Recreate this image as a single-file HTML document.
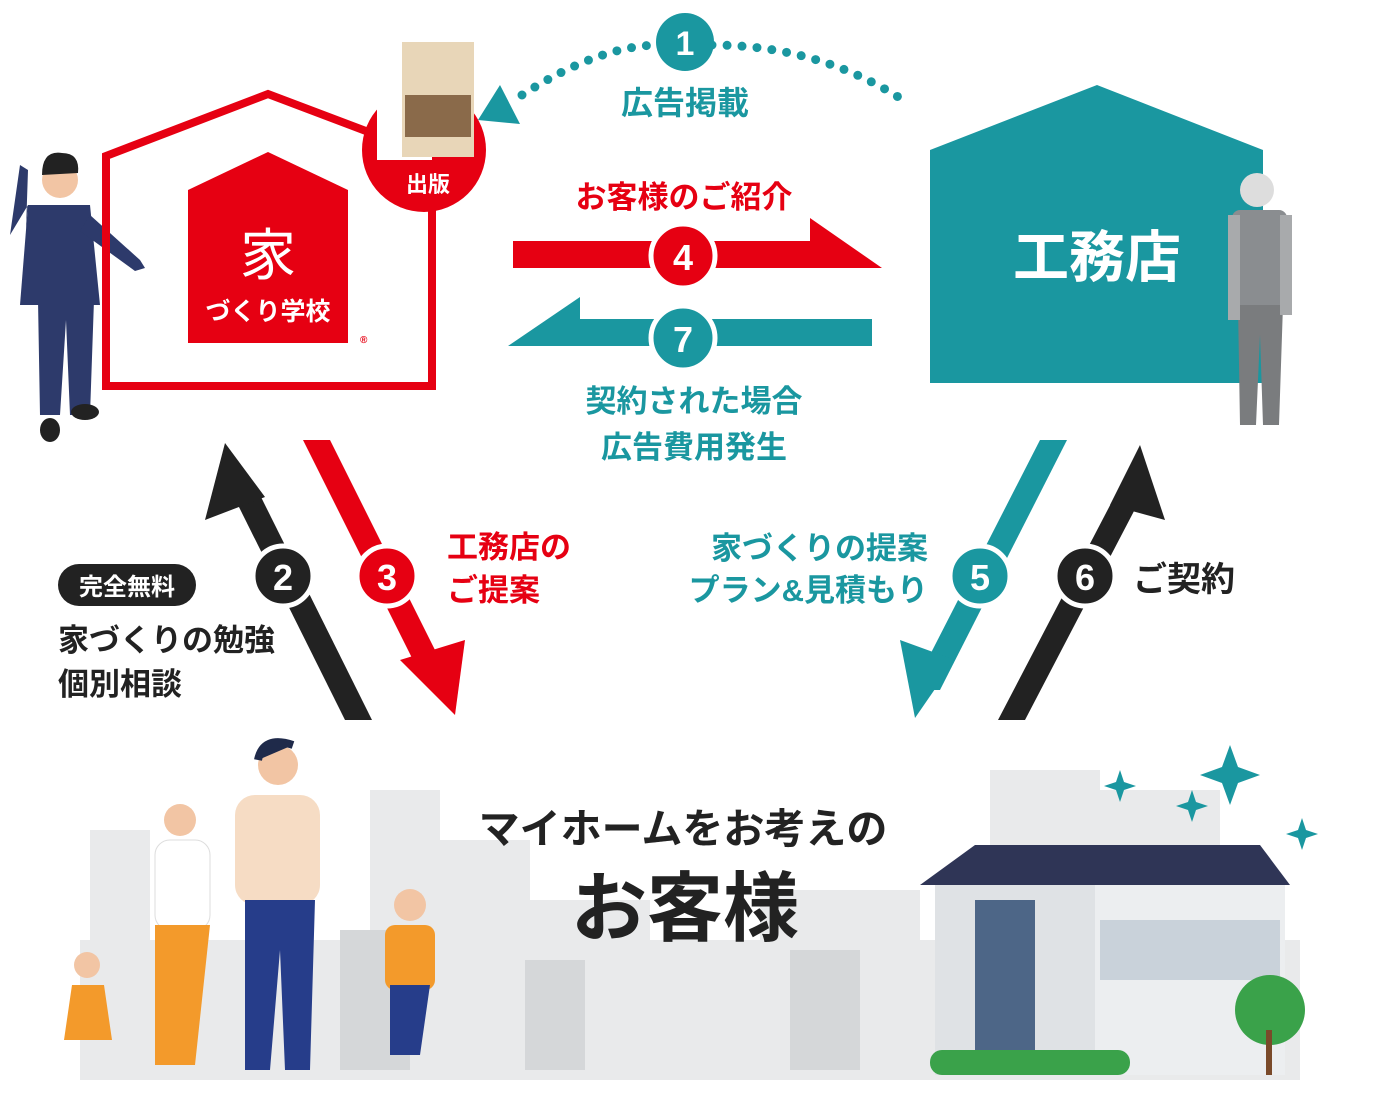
<!DOCTYPE html><html><head><meta charset="utf-8"><style>
body{margin:0;background:#fff;width:1376px;height:1088px;overflow:hidden;font-family:"Liberation Sans","Noto Sans CJK JP",sans-serif}
svg text{font-family:"Liberation Sans","Noto Sans CJK JP",sans-serif;font-weight:bold}
</style></head><body>
<svg width="1376" height="1088" viewBox="0 0 1376 1088" xmlns="http://www.w3.org/2000/svg">
<!-- bottom city -->
<g fill="#e9eaeb">
<rect x="90" y="830" width="60" height="240"/><rect x="370" y="790" width="70" height="280"/><rect x="440" y="840" width="90" height="230"/>
<rect x="520" y="900" width="130" height="170"/><rect x="760" y="890" width="160" height="180"/><rect x="990" y="770" width="110" height="100"/><rect x="1100" y="790" width="120" height="80"/>
<rect x="80" y="940" width="1220" height="140"/>
</g>
<g fill="#d5d7d9"><rect x="525" y="960" width="60" height="110"/><rect x="790" y="950" width="70" height="120"/><rect x="340" y="930" width="70" height="140"/></g>
<!-- house right -->
<polygon points="920,885 975,845 1260,845 1290,885" fill="#2f3556"/>
<rect x="935" y="885" width="160" height="190" fill="#dfe2e5"/>
<rect x="1095" y="885" width="190" height="190" fill="#eceef0"/>
<rect x="975" y="900" width="60" height="170" fill="#4d6687"/>
<rect x="1100" y="920" width="180" height="60" fill="#c9d2da"/>
<circle cx="1270" cy="1010" r="35" fill="#3aa24a"/><rect x="1266" y="1030" width="6" height="45" fill="#7a4a2a"/>
<rect x="930" y="1050" width="200" height="25" rx="12" fill="#3aa24a"/>
<g fill="#1a97a0"><path d="M1230 745l8 22 22 8-22 8-8 22-8-22-22-8 22-8z"/><path d="M1120 770l4 12 12 4-12 4-4 12-4-12-12-4 12-4z"/><path d="M1192 790l4 12 12 4-12 4-4 12-4-12-12-4 12-4z"/><path d="M1302 818l4 12 12 4-12 4-4 12-4-12-12-4 12-4z"/></g>
<!-- family -->
<g>
<circle cx="278" cy="765" r="20" fill="#f2c5a4"/><path d="M258 760q5-25 35-15" fill="#1f2a4a" stroke="#1f2a4a" stroke-width="8"/>
<rect x="235" y="795" width="85" height="110" rx="20" fill="#f6dcc4"/><path d="M245 900h70l-5 170h-25l-5-120-10 120h-25z" fill="#263d8a"/>
<circle cx="180" cy="820" r="16" fill="#f2c5a4"/><rect x="155" y="840" width="55" height="90" rx="15" fill="#fff" stroke="#ddd"/><path d="M155 925h55l-15 140h-40z" fill="#f39a2b"/>
<circle cx="410" cy="905" r="16" fill="#f2c5a4"/><rect x="385" y="925" width="50" height="65" rx="10" fill="#f39a2b"/><path d="M390 985h40l-10 70h-30z" fill="#263d8a"/>
<circle cx="87" cy="965" r="13" fill="#f2c5a4"/><path d="M72 985h32l8 55h-48z" fill="#f39a2b"/>
</g>
<!-- businessman -->
<g>
<circle cx="60" cy="180" r="18" fill="#f2c5a4"/><path d="M42 175q0-25 20-22q18 0 16 20" fill="#222"/>
<path d="M28 205h62l10 100h-80z" fill="#2d3a6b"/><path d="M38 300h56l-4 115h-20l-4-95-6 95h-20z" fill="#2d3a6b"/>
<path d="M90 215l50 45 5 8-10 3-55-40z" fill="#2d3a6b"/><path d="M28 205l-18 30 10-70 8 5-2 60z" fill="#2d3a6b"/>
<ellipse cx="50" cy="430" rx="10" ry="12" fill="#222"/><ellipse cx="85" cy="412" rx="14" ry="8" fill="#222"/>
</g>
<!-- red house -->
<polygon points="106,386 106,156 268,94 432,156 432,386" fill="none" stroke="#e60012" stroke-width="8"/>
<polygon points="188,343 188,190 268,152 348,190 348,343" fill="#e60012"/>
<text x="268" y="275" fill="#fff" font-size="56" text-anchor="middle" style="font-weight:normal">家</text>
<text x="268" y="320" fill="#fff" font-size="25" text-anchor="middle">づくり学校</text>
<text x="360" y="343" fill="#e60012" font-size="10">®</text>
<!-- publish circle -->
<circle cx="424" cy="150" r="62" fill="#e60012"/>
<rect x="377" y="60" width="55" height="100" fill="#fff"/><rect x="402" y="42" width="72" height="115" fill="#e8d6b8"/><rect x="405" y="95" width="66" height="42" fill="#8a6a4a"/>
<text x="428" y="192" fill="#fff" font-size="22" text-anchor="middle">出版</text>
<!-- teal house -->
<polygon points="930,383 930,150 1097,85 1263,150 1263,383" fill="#1a97a0"/>
<text x="1097" y="277" fill="#fff" font-size="56" text-anchor="middle">工務店</text>
<!-- worker -->
<g>
<circle cx="1257" cy="190" r="17" fill="#ddd"/><rect x="1232" y="210" width="55" height="100" rx="8" fill="#8a8d90"/><path d="M1238 305h45l-4 120h-16l-3-90-4 90h-16z" fill="#7a7c7e"/>
<rect x="1228" y="215" width="12" height="105" fill="#a8aaac"/><rect x="1280" y="215" width="12" height="100" fill="#a8aaac"/>
</g>
<!-- dotted arc -->
<path d="M522 95 Q600 45 660 45 M712 45 Q820 45 906 102" fill="none" stroke="#1a97a0" stroke-width="9" stroke-linecap="round" stroke-dasharray="0 15"/>
<polygon points="478,120 520,124 500,85" fill="#1a97a0"/>
<circle cx="685" cy="42" r="29" fill="#1a97a0"/><text x="685" y="55" fill="#fff" font-size="34" text-anchor="middle">1</text>
<text x="685" y="114" fill="#1a97a0" font-size="32" text-anchor="middle">広告掲載</text>
<!-- arrows 4,7 -->
<text x="684" y="208" fill="#e60012" font-size="31" text-anchor="middle">お客様のご紹介</text>
<polygon points="513,241 810,241 810,218 882,268 513,268" fill="#e60012"/>
<polygon points="872,319 580,319 580,297 508,346 872,346" fill="#1a97a0"/>
<circle cx="683" cy="256" r="32" fill="#e60012" stroke="#fff" stroke-width="5"/><text x="683" y="270" fill="#fff" font-size="36" text-anchor="middle">4</text>
<circle cx="683" cy="338" r="32" fill="#1a97a0" stroke="#fff" stroke-width="5"/><text x="683" y="352" fill="#fff" font-size="36" text-anchor="middle">7</text>
<text x="694" y="412" fill="#1a97a0" font-size="31" text-anchor="middle">契約された場合</text>
<text x="694" y="458" fill="#1a97a0" font-size="31" text-anchor="middle">広告費用発生</text>
<!-- diagonal arrows -->
<polygon points="345,720 372,720 260,495 233,495" fill="#222"/>
<polygon points="225,443 205,520 265,497" fill="#222"/>
<polygon points="303,440 330,440 445,670 418,670" fill="#e60012"/>
<polygon points="455,715 400,660 465,640" fill="#e60012"/>
<polygon points="1040,440 1067,440 940,690 912,690" fill="#1a97a0"/>
<polygon points="900,640 955,660 915,718" fill="#1a97a0"/>
<polygon points="998,720 1025,720 1145,490 1118,490" fill="#222"/>
<polygon points="1140,445 1165,520 1110,505" fill="#222"/>
<circle cx="283" cy="576" r="30" fill="#222" stroke="#fff" stroke-width="5"/><text x="283" y="590" fill="#fff" font-size="36" text-anchor="middle">2</text>
<circle cx="387" cy="576" r="30" fill="#e60012" stroke="#fff" stroke-width="5"/><text x="387" y="590" fill="#fff" font-size="36" text-anchor="middle">3</text>
<circle cx="980" cy="576" r="30" fill="#1a97a0" stroke="#fff" stroke-width="5"/><text x="980" y="590" fill="#fff" font-size="36" text-anchor="middle">5</text>
<circle cx="1085" cy="576" r="30" fill="#222" stroke="#fff" stroke-width="5"/><text x="1085" y="590" fill="#fff" font-size="36" text-anchor="middle">6</text>
<!-- side texts -->
<rect x="58" y="564" width="138" height="42" rx="21" fill="#222"/><text x="127" y="595" fill="#fff" font-size="24" text-anchor="middle">完全無料</text>
<text x="58" y="651" fill="#222" font-size="31">家づくりの勉強</text>
<text x="58" y="695" fill="#222" font-size="31">個別相談</text>
<text x="447" y="558" fill="#e60012" font-size="31">工務店の</text>
<text x="447" y="601" fill="#e60012" font-size="31">ご提案</text>
<text x="928" y="559" fill="#1a97a0" font-size="31" text-anchor="end">家づくりの提案</text>
<text x="928" y="601" fill="#1a97a0" font-size="31" text-anchor="end">プラン&amp;見積もり</text>
<text x="1133" y="591" fill="#222" font-size="34">ご契約</text>
<text x="683" y="843" fill="#222" font-size="41" text-anchor="middle">マイホームをお考えの</text>
<text x="685" y="935" fill="#222" font-size="76" text-anchor="middle">お客様</text>
</svg>
</body></html>
